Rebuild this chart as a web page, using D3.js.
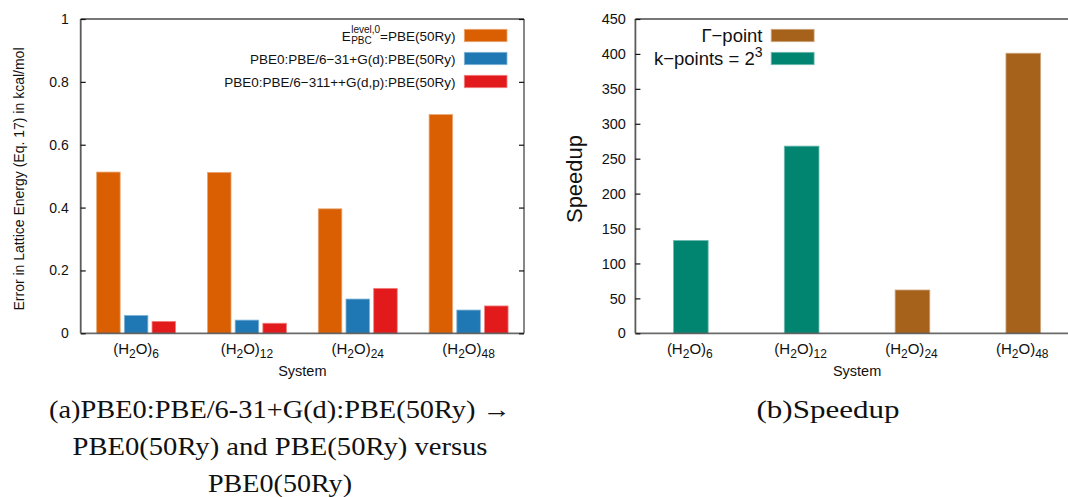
<!DOCTYPE html>
<html>
<head>
<meta charset="utf-8">
<script src="https://cdn.jsdelivr.net/npm/d3@7/dist/d3.min.js"></script>
<style>
  html, body { margin: 0; padding: 0; background: #fff; }
  svg { display: block; }
  .sans { font-family: "Liberation Sans", Arial, Helvetica, sans-serif; fill: #111; }
  .serif { font-family: "Liberation Serif", "Times New Roman", serif; fill: #111; }
</style>
</head>
<body>
<svg id="fig" width="1068" height="497"></svg>
<script>
// Water clusters (H2O)n studied
const clusterSizes = [6, 12, 24, 48];

// Panel (a): error in lattice energy, kcal/mol
const errPBE   = [0.513, 0.512, 0.396, 0.696];
const errDZ    = [0.057, 0.042, 0.109, 0.074];
const errTZ    = [0.038, 0.032, 0.143, 0.087];
const errTicks = [0, 0.2, 0.4, 0.6, 0.8, 1];

// Panel (b): speedup and the k-sampling used for each system
const speedup       = [133, 268, 62, 401];
const speedupMode   = ["k", "k", "gamma", "gamma"];
const speedupTicks  = [0, 50, 100, 150, 200, 250, 300, 350, 400, 450];

const errColors = ["#d95f02", "#1f78b4", "#e31a1c"];
const modeColors = { gamma: "#a6611a", k: "#018571" };

const svg = d3.select("#fig");
const SANS = "Liberation Sans, Arial, Helvetica, sans-serif";

function lighter(c) { return d3.interpolateRgb(c, "#ffffff")(0.45); }

// "(H2O)n" with subscripts
function clusterLabel(sel, n, size) {
  const sub = size * 0.8;
  sel.append("tspan").text("(H");
  sel.append("tspan").attr("font-size", sub).attr("dy", 4).text("2");
  sel.append("tspan").attr("dy", -4).text("O)");
  sel.append("tspan").attr("font-size", sub).attr("dy", 4).text(String(n));
}

function frame(g, x0, x1, yTop, yBot, rightLine) {
  g.append("line").attr("x1", x0).attr("x2", x1).attr("y1", yTop).attr("y2", yTop)
    .attr("stroke", "#4a4a4a").attr("stroke-width", 1.6);
  g.append("line").attr("x1", x0).attr("x2", x0).attr("y1", yTop).attr("y2", yBot)
    .attr("stroke", "#5a5a5a").attr("stroke-width", 1.8);
  g.append("line").attr("x1", x0).attr("x2", x1).attr("y1", yBot).attr("y2", yBot)
    .attr("stroke", "#5a5a5a").attr("stroke-width", 1.8).attr("opacity", 0.9);
  if (rightLine) {
    g.append("line").attr("x1", x1).attr("x2", x1).attr("y1", yTop).attr("y2", yBot)
      .attr("stroke", "#111").attr("stroke-width", 1);
  }
}

function styleAxis(ax, size) {
  ax.select(".domain").remove();
  ax.attr("font-family", SANS).attr("font-size", size);
  ax.selectAll(".tick line").attr("stroke", "#111").attr("stroke-width", 1.2);
  ax.selectAll(".tick text").attr("fill", "#111");
}

/* ---------------- Panel (a) ---------------- */
{
  const x0 = 80.7, x1 = 524, yTop = 19, yBot = 333.3;
  const x = d3.scaleLinear().domain([-0.5, 3.5]).range([x0, x1]);
  const y = d3.scaleLinear().domain([0, 1]).range([yBot, yTop]);
  const g = svg.append("g");

  const series = [errPBE, errDZ, errTZ];
  const slot = 0.25, bw = 0.2125;
  series.forEach((vals, s) => {
    g.append("g").selectAll("rect").data(vals).join("rect")
      .attr("x", (d, i) => x(i + (s - 1) * slot - bw / 2))
      .attr("width", x(bw) - x(0))
      .attr("y", d => y(d))
      .attr("height", d => y(0) - y(d))
      .attr("fill", errColors[s])
      .attr("stroke", lighter(errColors[s]))
      .attr("stroke-width", 0.8);
  });

  frame(g, x0, x1, yTop, yBot, true);

  const axL = g.append("g").attr("transform", `translate(${x0},0)`)
    .call(d3.axisLeft(y).tickValues(errTicks).tickFormat(d3.format("~g"))
      .tickSize(-5).tickPadding(12));
  styleAxis(axL, 14);
  const axR = g.append("g").attr("transform", `translate(${x1},0)`)
    .call(d3.axisRight(y).tickValues(errTicks).tickFormat("").tickSize(-5));
  styleAxis(axR, 14);

  clusterSizes.forEach((n, i) => {
    const t = g.append("text").attr("class", "sans").attr("font-size", 15)
      .attr("x", x(i)).attr("y", 354).attr("text-anchor", "middle");
    clusterLabel(t, n, 15);
  });

  g.append("text").attr("class", "sans").attr("font-size", 14.5)
    .attr("x", (x0 + x1) / 2).attr("y", 376).attr("text-anchor", "middle").text("System");

  g.append("text").attr("class", "sans").attr("font-size", 14)
    .attr("transform", `translate(23.5,179) rotate(-90)`)
    .attr("text-anchor", "middle")
    .text("Error in Lattice Energy (Eq. 17) in kcal/mol");

  // Key
  const rows = [35.5, 58.5, 81.5];
  const textEnd = 455.5, boxX = 464.3, boxW = 42.7, boxH = 12.4;
  rows.forEach((ry, s) => {
    g.append("rect").attr("x", boxX).attr("y", ry - boxH / 2).attr("width", boxW).attr("height", boxH)
      .attr("fill", errColors[s]).attr("stroke", lighter(errColors[s])).attr("stroke-width", 0.8);
  });
  // E^{level,0}_{PBC}=PBE(50Ry) with stacked super/subscript
  const k0 = g.append("g");
  const tE = k0.append("text").attr("class", "sans").attr("font-size", 13.5).attr("x", 0).attr("y", rows[0] + 5).text("E");
  const wE = tE.node().getComputedTextLength() + 0.5;
  const tSup = k0.append("text").attr("class", "sans").attr("font-size", 10).attr("x", wE).attr("y", rows[0] - 3).text("level,0");
  const tSub = k0.append("text").attr("class", "sans").attr("font-size", 10).attr("x", wE).attr("y", rows[0] + 8.5).text("PBC");
  const wS = Math.max(tSup.node().getComputedTextLength(), tSub.node().getComputedTextLength());
  const tRest = k0.append("text").attr("class", "sans").attr("font-size", 13.5).attr("x", wE + wS).attr("y", rows[0] + 5).text("=PBE(50Ry)");
  const wTot = wE + wS + tRest.node().getComputedTextLength();
  k0.attr("transform", `translate(${textEnd - wTot},0)`);

  g.append("text").attr("class", "sans").attr("font-size", 13.5).attr("text-anchor", "end")
    .attr("x", textEnd).attr("y", rows[1] + 5).text("PBE0:PBE/6\u221231+G(d):PBE(50Ry)");
  g.append("text").attr("class", "sans").attr("font-size", 13.5).attr("text-anchor", "end")
    .attr("x", textEnd).attr("y", rows[2] + 5).text("PBE0:PBE/6\u2212311++G(d,p):PBE(50Ry)");
}

/* ---------------- Panel (b) ---------------- */
{
  const x0 = 635.4, x1 = 1078.7, yTop = 19, yBot = 333.3;
  const x = d3.scaleLinear().domain([-0.5, 3.5]).range([x0, x1]);
  const y = d3.scaleLinear().domain([0, 450]).range([yBot, yTop]);
  const g = svg.append("g");
  const bw = 0.313;

  g.append("g").selectAll("rect").data(speedup).join("rect")
    .attr("x", (d, i) => x(i - bw / 2))
    .attr("width", x(bw) - x(0))
    .attr("y", d => y(d))
    .attr("height", d => y(0) - y(d))
    .attr("fill", (d, i) => modeColors[speedupMode[i]])
    .attr("stroke", (d, i) => lighter(modeColors[speedupMode[i]]))
    .attr("stroke-width", 0.8);

  frame(g, x0, x1, yTop, yBot, true);

  const axL = g.append("g").attr("transform", `translate(${x0},0)`)
    .call(d3.axisLeft(y).tickValues(speedupTicks).tickFormat(d3.format("d"))
      .tickSize(-5).tickPadding(9.5));
  styleAxis(axL, 14.5);

  clusterSizes.forEach((n, i) => {
    const t = g.append("text").attr("class", "sans").attr("font-size", 15)
      .attr("x", x(i) - 1).attr("y", 354).attr("text-anchor", "middle");
    clusterLabel(t, n, 15);
  });

  g.append("text").attr("class", "sans").attr("font-size", 14.5)
    .attr("x", (x0 + x1) / 2).attr("y", 376).attr("text-anchor", "middle").text("System");

  g.append("text").attr("class", "sans").attr("font-size", 22)
    .attr("transform", `translate(582,179) rotate(-90)`)
    .attr("text-anchor", "middle").text("Speedup");

  // Key
  const rows = [35.5, 58.5];
  const textEnd = 762.5, boxX = 771.2, boxW = 42.9, boxH = 12.4;
  [["gamma", "\u0393\u2212point"], ["k", "k\u2212points = 2"]].forEach(([m, label], r) => {
    g.append("rect").attr("x", boxX).attr("y", rows[r] - boxH / 2).attr("width", boxW).attr("height", boxH)
      .attr("fill", modeColors[m]).attr("stroke", lighter(modeColors[m])).attr("stroke-width", 0.8);
    const t = g.append("text").attr("class", "sans").attr("font-size", 18.5).attr("text-anchor", "end")
      .attr("x", textEnd).attr("y", rows[r] + 6.5);
    t.append("tspan").text(label);
    if (m === "k") t.append("tspan").attr("font-size", 14).attr("dy", -8).text("3");
  });
}

/* ---------------- Captions ---------------- */
const capA = [
  ["(a)PBE0:PBE/6-31+G(d):PBE(50Ry) \u2192", 418, 462],
  ["PBE0(50Ry) and PBE(50Ry) versus", 455, 415],
  ["PBE0(50Ry)", 492, 144]
];
capA.forEach(([s, yy, len]) => {
  svg.append("text").attr("class", "serif").attr("font-size", 25)
    .attr("x", 280).attr("y", yy).attr("text-anchor", "middle")
    .attr("textLength", len).attr("lengthAdjust", "spacingAndGlyphs").text(s);
});
svg.append("text").attr("class", "serif").attr("font-size", 25)
  .attr("x", 828).attr("y", 418).attr("text-anchor", "middle")
  .attr("textLength", 143).attr("lengthAdjust", "spacingAndGlyphs").text("(b)Speedup");
</script>
</body>
</html>
